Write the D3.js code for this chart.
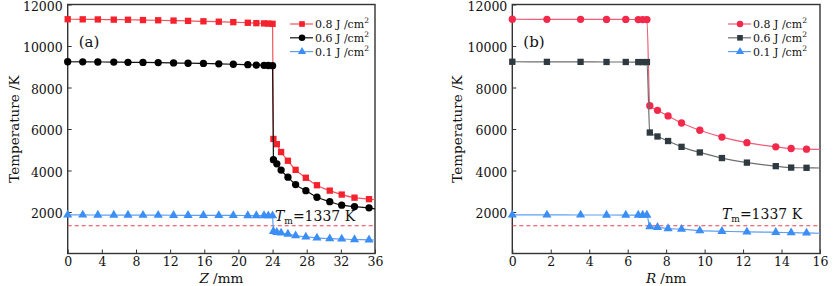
<!DOCTYPE html>
<html>
<head>
<meta charset="utf-8">
<script src="https://cdn.jsdelivr.net/npm/d3@7"></script>
<style>
  body { margin: 0; background: #fff; }
  svg text { font-family: "DejaVu Serif", serif; fill: #111; }
</style>
</head>
<body>
<svg id="chart" width="840" height="286"></svg>
<script>
// ---- data, panel (a): temperature vs Z ----
const zPre = [0, 1.76, 3.53, 5.4, 7.06, 8.82, 10.6, 12.4, 14.1, 15.9, 17.7, 19.4, 21.1, 22.1, 23.0, 23.5, 24.0];
const zPost = [24.1, 24.5, 25.0, 25.8, 26.7, 27.9, 29.2, 30.7, 32.1, 33.6, 35.3];
const zEnd = 36;
const a08Pre = [11290, 11285, 11280, 11270, 11265, 11250, 11240, 11225, 11210, 11190, 11170, 11150, 11120, 11100, 11090, 11080, 11070];
const a08Post = [5520, 5270, 4890, 4470, 4030, 3650, 3290, 3030, 2840, 2690, 2620];
const a08End = 2590;
const a06Pre = [9240, 9235, 9230, 9225, 9215, 9210, 9200, 9185, 9170, 9160, 9140, 9120, 9100, 9080, 9070, 9060, 9050];
const a06Post = [4520, 4320, 4020, 3680, 3320, 3030, 2710, 2500, 2330, 2260, 2200];
const a06End = 2150;
const a01Pre = [1860, 1858, 1855, 1852, 1850, 1848, 1845, 1843, 1840, 1838, 1835, 1833, 1830, 1828, 1825, 1823, 1820];
const a01Post = [1070, 1020, 990, 940, 860, 800, 750, 715, 700, 670, 660];
const a01End = 650;

// ---- data, panel (b): temperature vs R ----
const rPre = [0, 1.8, 3.55, 4.9, 5.9, 6.55, 6.78, 7.0];
const rPost = [7.15, 7.55, 8.1, 8.8, 9.75, 10.9, 12.2, 13.7, 14.5, 15.3];
const rEnd = 16;
const b08Pre = [11290, 11285, 11285, 11280, 11280, 11275, 11275, 11275];
const b08Post = [7120, 6900, 6630, 6290, 5940, 5610, 5340, 5140, 5060, 5030];
const b08End = 5020;
const b06Pre = [9240, 9235, 9235, 9230, 9230, 9225, 9225, 9225];
const b06Post = [5830, 5640, 5420, 5140, 4870, 4600, 4380, 4210, 4140, 4130];
const b06End = 4120;
const b01Pre = [1860, 1858, 1856, 1855, 1853, 1852, 1851, 1850];
const b01Post = [1290, 1265, 1200, 1170, 1100, 1070, 1040, 1020, 1005, 990];
const b01End = 975;

const legendLabels = ["0.8 J /cm", "0.6 J /cm", "0.1 J /cm"];
const yTicks = [2000, 4000, 6000, 8000, 10000, 12000];
const meltT = 1337;

const svg = d3.select("#chart");

function drawPanel(cfg) {
    const g = svg.append("g");
    const x = d3.scaleLinear().domain(cfg.xDomain).range([cfg.left, cfg.right]);
    const y = d3.scaleLinear().domain([0, 12000]).range([253.5, 4.5]);

    // frame
    g.append("rect")
        .attr("x", cfg.left).attr("y", 4.5)
        .attr("width", cfg.right - cfg.left).attr("height", 249)
        .attr("fill", "none").attr("stroke", "#333").attr("stroke-width", 1.4);

    const xAxis = g.append("g")
        .attr("transform", `translate(0,253.5)`)
        .call(d3.axisBottom(x).tickValues(cfg.xTicks).tickFormat(d3.format("d"))
            .tickSizeInner(-4).tickSizeOuter(0).tickPadding(4));
    const yAxis = g.append("g")
        .attr("transform", `translate(${cfg.left},0)`)
        .call(d3.axisLeft(y).tickValues(yTicks).tickFormat(d3.format("d"))
            .tickSizeInner(-4).tickSizeOuter(0).tickPadding(5));
    [xAxis, yAxis].forEach(ax => {
        ax.select(".domain").remove();
        ax.selectAll("line").attr("stroke", "#333");
        ax.selectAll("text").attr("font-size", 12.5).attr("font-family", "DejaVu Serif").attr("fill", "#111");
    });
    yAxis.selectAll("text").attr("dy", "0.45em");

    // melting point
    g.append("line")
        .attr("x1", cfg.left).attr("x2", cfg.right)
        .attr("y1", y(meltT)).attr("y2", y(meltT))
        .attr("stroke", "#e8404e").attr("stroke-width", 1).attr("stroke-dasharray", "4,3");

    const line = d3.line().x(d => x(d[0])).y(d => y(d[1])).curve(d3.curveMonotoneX);

    cfg.series.forEach(s => {
        const pts = s.xs.map((v, i) => [v, s.ys[i]]);
        const pathPts = pts.concat([[s.endX, s.endY]]);
        g.append("path").datum(pathPts)
            .attr("d", line).attr("fill", "none")
            .attr("stroke", s.lineColor).attr("stroke-width", 1.2);
        g.append("g").selectAll("path").data(pts).join("path")
            .attr("transform", d => `translate(${x(d[0])},${y(d[1])})`)
            .attr("d", d3.symbol().type(s.symbol).size(s.size))
            .attr("fill", s.color);
    });

    // legend
    cfg.series.forEach((s, i) => {
        const ly = 24 + i * 13.8;
        g.append("line")
            .attr("x1", cfg.legendX).attr("x2", cfg.legendX + 23)
            .attr("y1", ly).attr("y2", ly)
            .attr("stroke", s.lineColor).attr("stroke-width", 1.2);
        g.append("path")
            .attr("transform", `translate(${cfg.legendX + 12},${ly})`)
            .attr("d", d3.symbol().type(s.symbol).size(s.size * 0.8))
            .attr("fill", s.color);
        const t = g.append("text")
            .attr("x", cfg.legendX + 25).attr("y", ly + 4)
            .attr("font-size", 11);
        t.append("tspan").text(legendLabels[i]);
        t.append("tspan").attr("font-size", 7.5).attr("dy", -5).text("2");
    });

    // panel label
    g.append("text").attr("x", cfg.left + 11).attr("y", 47)
        .attr("font-size", 15).text(cfg.tag);

    // Tm label
    const tm = g.append("text").attr("x", cfg.tmX).attr("y", cfg.tmY).attr("font-size", 14);
    tm.append("tspan").attr("font-style", "italic").text("T");
    tm.append("tspan").attr("font-size", 9).attr("dy", 3).text("m");
    tm.append("tspan").attr("dy", -3).text("=1337 K");

    // axis titles
    const xt = g.append("text")
        .attr("x", (cfg.left + cfg.right) / 2).attr("y", 283)
        .attr("text-anchor", "middle").attr("font-size", 13.5);
    xt.append("tspan").attr("font-style", "italic").text(cfg.xVar);
    xt.append("tspan").text(" /" + cfg.xUnit);

    g.append("text")
        .attr("transform", `translate(${cfg.titleX},129) rotate(-90)`)
        .attr("text-anchor", "middle").attr("font-size", 13.5)
        .text("Temperature /K");
}

const redA = "#f5222d", blue = "#3a8ef6", blueLine = "#5d9ff2";

drawPanel({
    left: 67.7, right: 375, xDomain: [0, 36],
    xTicks: d3.range(0, 37, 4),
    xVar: "Z", xUnit: "mm", tag: "(a)", titleX: 19,
    legendX: 290, tmX: 275, tmY: 221,
    series: [
        { xs: zPre.concat(zPost), ys: a08Pre.concat(a08Post), endX: zEnd, endY: a08End,
          symbol: d3.symbolSquare, size: 40, color: redA, lineColor: "#f0555b" },
        { xs: zPre.concat(zPost), ys: a06Pre.concat(a06Post), endX: zEnd, endY: a06End,
          symbol: d3.symbolCircle, size: 42, color: "#000", lineColor: "#111" },
        { xs: zPre.concat(zPost), ys: a01Pre.concat(a01Post), endX: zEnd, endY: a01End,
          symbol: d3.symbolTriangle, size: 36, color: blue, lineColor: blueLine }
    ]
});

drawPanel({
    left: 512.3, right: 820, xDomain: [0, 16],
    xTicks: d3.range(0, 17, 2),
    xVar: "R", xUnit: "nm", tag: "(b)", titleX: 462,
    legendX: 728, tmX: 722, tmY: 219,
    series: [
        { xs: rPre.concat(rPost), ys: b08Pre.concat(b08Post), endX: rEnd, endY: b08End,
          symbol: d3.symbolCircle, size: 42, color: "#f2294a", lineColor: "#ee5f78" },
        { xs: rPre.concat(rPost), ys: b06Pre.concat(b06Post), endX: rEnd, endY: b06End,
          symbol: d3.symbolSquare, size: 40, color: "#2f3a40", lineColor: "#6b6e70" },
        { xs: rPre.concat(rPost), ys: b01Pre.concat(b01Post), endX: rEnd, endY: b01End,
          symbol: d3.symbolTriangle, size: 36, color: blue, lineColor: blueLine }
    ]
});
</script>
</body>
</html>
